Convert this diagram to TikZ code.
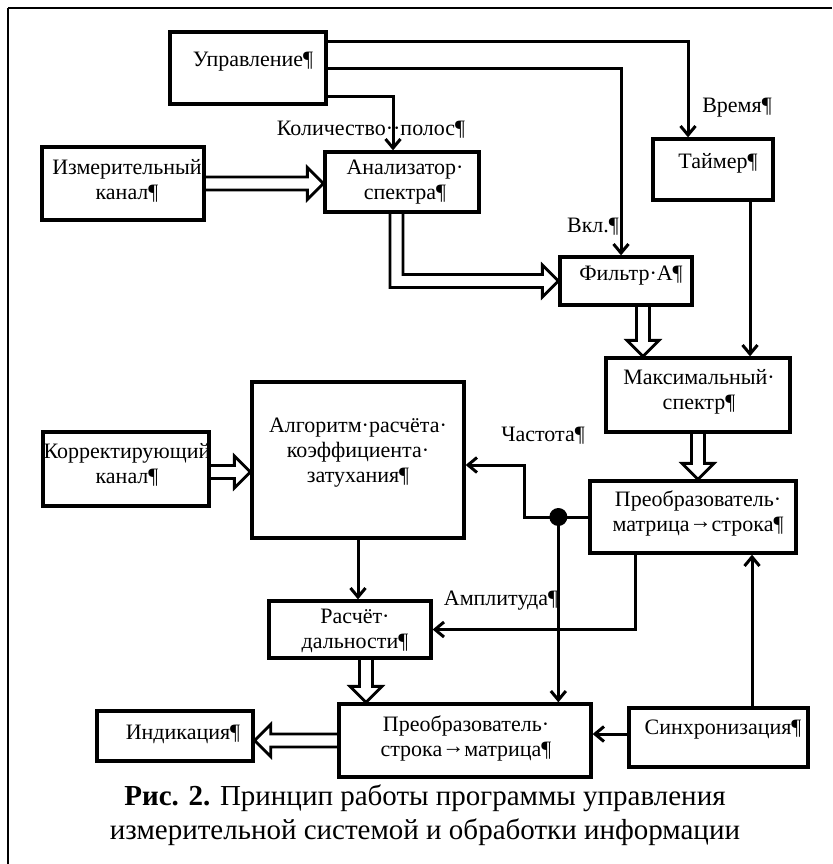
\documentclass[tikz,border=0pt]{standalone}
\usepackage{fontspec}
\setmainfont{Liberation Serif}
\usetikzlibrary{calc,arrows.meta}
\newcommand\hollowarr[2]{%
  \coordinate (hA) at (#1); \coordinate (hB) at (#2);
  \coordinate (hC) at ($(hB)!16pt!(hA)$);
  \draw[hline] ($(hA)!6.5pt!90:(hB)$) -- ($(hC)!6.5pt!90:(hB)$) -- ($(hC)!16pt!90:(hB)$) -- (hB)
    -- ($(hC)!16pt!-90:(hB)$) -- ($(hC)!6.5pt!-90:(hB)$) -- ($(hA)!6.5pt!-90:(hB)$);}
\newcommand\rarr{\raisebox{0.12em}{→}}
\begin{document}
\begin{tikzpicture}[x=1pt,y=-1pt,
  box/.style 2 args={draw, line width=3.3pt, minimum width=#1pt, minimum height=#2pt, inner sep=0pt},
  txt/.style={align=center, inner sep=0pt, font=\fontsize{22}{25}\selectfont},
  captxt/.style={align=center, inner sep=0pt, font=\fontsize{29}{34}\selectfont},
  conn/.style={line width=3pt, -{Straight Barb[length=9pt,width=15pt]}},
  hline/.style={line width=2.8pt, line join=miter},
  dotnode/.style={circle, fill=black, minimum size=18pt, inner sep=0pt}]
\useasboundingbox (0,0) rectangle (832,864);
% frame
\draw[line width=2.6pt] (8,864) -- (8,8);
\draw[line width=1.6pt] (8,8) -- (832,8);

% boxes
\node[box={156}{72}] (upr) at (248,68) {};
\node[box={162}{73}] (izm) at (123,183.5) {};
\node[box={154}{60}] (anal) at (402,182) {};
\node[box={120}{61}] (taim) at (713,169.5) {};
\node[box={132}{48}] (filt) at (626,281) {};
\node[box={184}{74}] (maks) at (698,395) {};
\node[box={206}{72}] (pms) at (693,517) {};
\node[box={212}{156}] (alg) at (358,460) {};
\node[box={166}{74}] (korr) at (126,469) {};
\node[box={162}{57}] (rasch) at (350,629.5) {};
\node[box={156}{50}] (ind) at (175,736) {};
\node[box={252}{73}] (psm) at (465,740.5) {};
\node[box={179}{59}] (sinh) at (718.5,737.5) {};

% texts in boxes
\node[txt] (uprT) at (253,62) {Управление¶};
\node[txt] (izmT) at (127,181) {Измерительный\\канал¶};
\node[txt] (analT) at (405,182) {Анализатор·\\спектра¶};
\node[txt] (taimT) at (718,163) {Таймер¶};
\node[txt] (filtT) at (631,276) {Фильтр·А¶};
\node[txt] (maksT) at (699,392) {Максимальный·\\спектр¶};
\node[txt] (pmsT) at (698,513) {Преобразователь·\\матрица\rarr строка¶};
\node[txt] (algT) at (358,453) {Алгоритм·расчёта·\\коэффициента·\\затухания¶};
\node[txt] (korrT) at (127,465) {Корректирующий\\канал¶};
\node[txt] (raschT) at (355,631) {Расчёт·\\дальности¶};
\node[txt] (indT) at (183,734) {Индикация¶};
\node[txt] (psmT) at (466,738) {Преобразователь·\\строка\rarr матрица¶};
\node[txt] (sinhT) at (723,730) {Синхронизация¶};

% labels
\node[txt] (lblQ) at (371,130) {Количество··полос¶};
\node[txt] (lblT) at (737,108) {Время¶};
\node[txt] (lblV) at (593,227) {Вкл.¶};
\node[txt] (lblF) at (543,436) {Частота¶};
\node[txt] (lblA) at (501,601) {Амплитуда¶};

% caption
\node[captxt] (capT) at (425,815) {\textbf{Рис. 2.} Принцип работы программы управления\\измерительной системой и обработки информации};

% thin connectors
\coordinate (u1) at ($(upr.north east)+(0,11)$);
\draw[conn] (u1) -| ($(taim.north)+(-25,0)$);
\coordinate (u2) at ($(upr.east)+(0,1)$);
\draw[conn] (u2) -| ($(filt.north)+(-5,0)$);
\coordinate (u3) at ($(upr.south east)+(0,-9)$);
\draw[conn] (u3) -| ($(anal.north)+(-9,0)$);

\coordinate (t1) at ($(taim.south)+(37,0)$);
\draw[conn] (t1) -- (t1 |- maks.north);

\node[dotnode] (dot) at ($(pms.west)+(-30,0)$) {};
\draw[conn] (pms.west) -- (dot.center) -- ++(-34,0) |- ($(alg.east)+(0,5)$);
\draw[conn] (dot.center) -- (dot.center |- psm.north);

\coordinate (a1) at ($(pms.south)+(-58,0)$);
\draw[conn] (a1) |- (rasch.east);

\coordinate (s1) at ($(sinh.north)+(33.5,0)$);
\draw[conn] (s1) -- (s1 |- pms.south);
\coordinate (s2) at ($(sinh.west)+(0,-3.5)$);
\draw[conn] (s2) -- (s2 -| psm.east);

\draw[conn] (alg.south) -- (alg.south |- rasch.north);

% hollow arrows
\hollowarr{izm.east}{izm.east -| anal.west}
\coordinate (k1) at ($(korr.east)+(0,3)$);
\hollowarr{k1}{k1 -| alg.west}
\coordinate (f1) at ($(filt.south)+(17,0)$);
\hollowarr{f1}{f1 |- maks.north}
\hollowarr{maks.south}{maks.south |- pms.north}
\coordinate (r1) at ($(rasch.south)+(16,0)$);
\hollowarr{r1}{r1 |- psm.north}
\hollowarr{psm.west}{psm.west -| ind.east}

% bent hollow arrow: analyzer -> filter
\coordinate (b0) at ($(anal.south)+(-5.5,0)$);
\coordinate (bc) at (b0 |- filt.west);
\coordinate (bt) at (filt.west);
\draw[hline] ($(b0)+(-6.5,0)$) -- ($(bc)+(-6.5,6.5)$) -- ($(bt)+(-16,6.5)$) -- ($(bt)+(-16,16)$) -- (bt)
  -- ($(bt)+(-16,-16)$) -- ($(bt)+(-16,-6.5)$) -- ($(bc)+(6.5,-6.5)$) -- ($(b0)+(6.5,0)$);
\end{tikzpicture}
\end{document}
